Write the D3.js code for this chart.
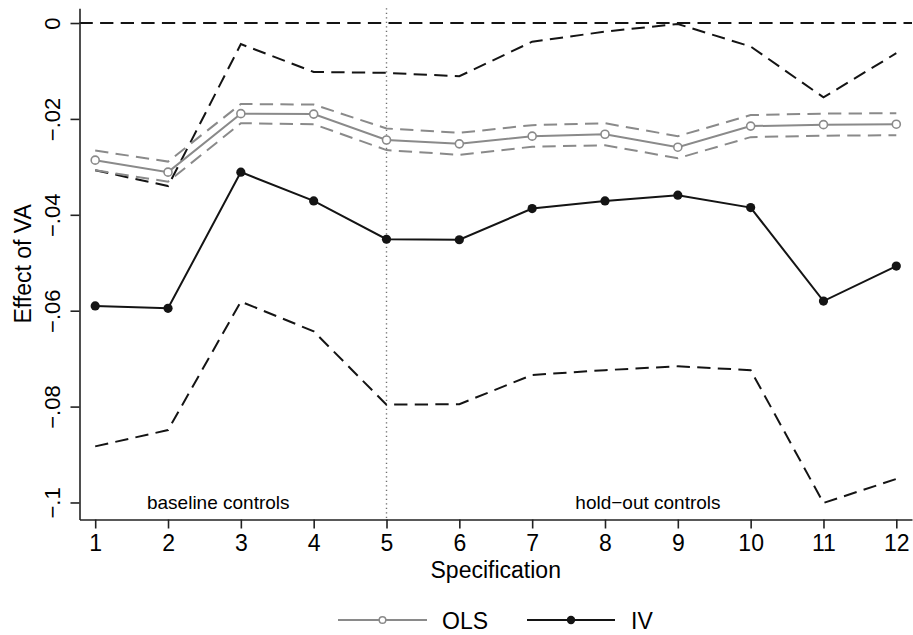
<!DOCTYPE html>
<html>
<head>
<meta charset="utf-8">
<script src="https://cdn.jsdelivr.net/npm/d3@7"></script>
<style>
  html, body { margin: 0; padding: 0; background: #fff; }
  svg { display: block; font-family: "Liberation Sans", Arial, Helvetica, sans-serif; }
</style>
</head>
<body>
<svg id="chart" width="913" height="635"></svg>
<script>
// Specifications 1..12
const specs = [1, 2, 3, 4, 5, 6, 7, 8, 9, 10, 11, 12];

// OLS estimates and 95% bounds
const olsEst   = [-0.0286, -0.0311, -0.0189, -0.0190, -0.0244, -0.0252, -0.0236, -0.0232, -0.0259, -0.0215, -0.0212, -0.0211];
const olsUpper = [-0.0266, -0.0289, -0.0169, -0.0170, -0.0220, -0.0229, -0.0213, -0.0209, -0.0236, -0.0192, -0.0189, -0.0188];
const olsLower = [-0.0307, -0.0331, -0.0209, -0.0211, -0.0265, -0.0275, -0.0258, -0.0255, -0.0282, -0.0238, -0.0235, -0.0234];

// IV estimates and 95% bounds
const ivEst   = [-0.0590, -0.0595, -0.0311, -0.0371, -0.0451, -0.0452, -0.0387, -0.0371, -0.0359, -0.0385, -0.0580, -0.0507];
const ivUpper = [-0.0307, -0.0340, -0.0044, -0.0102, -0.0104, -0.0111, -0.0039, -0.0018, -0.0002, -0.0049, -0.0155, -0.0063];
const ivLower = [-0.0883, -0.0849, -0.0581, -0.0643, -0.0796, -0.0795, -0.0734, -0.0724, -0.0716, -0.0724, -0.1001, -0.0951];

// Axis ticks
const yTicks = [0, -0.02, -0.04, -0.06, -0.08, -0.1];
const yTickLabels = ["0", "\u2212.02", "\u2212.04", "\u2212.06", "\u2212.08", "\u2212.1"];
const xTicks = specs;

// Region annotations
const regionLabels = ["baseline controls", "hold\u2212out controls"];
const regionLabelX = [2.69, 8.59];
const splitAt = 5;

const legendNames = ["OLS", "IV"];

const svg = d3.select("#chart");
const GRAY = "#8a8a8a";
const BLACK = "#141414";
const DASH = "13.3,7.3";

const x = d3.scaleLinear().domain([0.7845, 12.2155]).range([79.5, 912]);
const y = d3.scaleLinear().domain([-0.10355, 0.00307]).range([519.5, 8.3]);

const plot = svg.append("g");

// Reference line at zero
plot.append("line")
  .attr("x1", x.range()[0]).attr("x2", x.range()[1])
  .attr("y1", y(0)).attr("y2", y(0))
  .attr("stroke", BLACK).attr("stroke-width", 2)
  .attr("stroke-dasharray", DASH);

// Split between baseline and hold-out specifications
plot.append("line")
  .attr("x1", x(splitAt)).attr("x2", x(splitAt))
  .attr("y1", y.range()[1]).attr("y2", y.range()[0])
  .attr("stroke", "#6f6f6f").attr("stroke-width", 1.4)
  .attr("stroke-dasharray", "1.3,3.2");

const line = d3.line().x((d, i) => x(specs[i])).y(d => y(d));

function drawLine(vals, color, width, dash) {
  plot.append("path")
    .datum(vals)
    .attr("d", line)
    .attr("fill", "none")
    .attr("stroke", color)
    .attr("stroke-width", width)
    .attr("stroke-linejoin", "miter")
    .attr("stroke-dasharray", dash || null);
}

// IV confidence bounds
drawLine(ivUpper, BLACK, 2, DASH);
drawLine(ivLower, BLACK, 2, DASH);
// OLS confidence bounds
drawLine(olsUpper, GRAY, 2, DASH);
drawLine(olsLower, GRAY, 2, DASH);
// OLS estimates
drawLine(olsEst, GRAY, 2);
plot.selectAll("circle.ols").data(olsEst).enter().append("circle")
  .attr("class", "ols")
  .attr("cx", (d, i) => x(specs[i])).attr("cy", d => y(d))
  .attr("r", 4).attr("fill", "#fff").attr("stroke", GRAY).attr("stroke-width", 1.6);
// IV estimates
drawLine(ivEst, BLACK, 2);
plot.selectAll("circle.iv").data(ivEst).enter().append("circle")
  .attr("class", "iv")
  .attr("cx", (d, i) => x(specs[i])).attr("cy", d => y(d))
  .attr("r", 4.6).attr("fill", BLACK);

// Region labels
plot.selectAll("text.region").data(regionLabels).enter().append("text")
  .attr("class", "region")
  .attr("x", (d, i) => x(regionLabelX[i]))
  .attr("y", y(-0.1) + 7)
  .attr("text-anchor", "middle")
  .attr("font-size", 19)
  .attr("fill", "#000")
  .text(d => d);

// Axes
const xAxis = d3.axisBottom(x).tickValues(xTicks).tickSize(9).tickSizeOuter(0).tickPadding(6)
  .tickFormat(d3.format("d"));
const gx = svg.append("g").attr("transform", `translate(0,${y.range()[0]})`).call(xAxis);
gx.select(".domain").attr("stroke", "#222").attr("stroke-width", 1.6);
gx.selectAll(".tick line").attr("stroke", "#222").attr("stroke-width", 1.6);
gx.selectAll(".tick text").attr("font-size", 23).attr("fill", "#000")
  .attr("font-family", "'Liberation Sans', Arial, sans-serif");

const yAxis = d3.axisLeft(y).tickValues(yTicks).tickSize(9).tickSizeOuter(0)
  .tickFormat((d, i) => yTickLabels[i]);
const gy = svg.append("g").attr("transform", `translate(${x.range()[0]},0)`).call(yAxis);
gy.select(".domain").attr("stroke", "#222").attr("stroke-width", 1.6);
gy.selectAll(".tick line").attr("stroke", "#222").attr("stroke-width", 1.6);
gy.selectAll(".tick text")
  .attr("font-size", 22).attr("fill", "#000")
  .attr("font-family", "'Liberation Sans', Arial, sans-serif")
  .attr("x", null).attr("dy", null)
  .attr("text-anchor", "middle")
  .attr("transform", "translate(-20,0) rotate(-90)");

// Axis titles
svg.append("text")
  .attr("x", (x.range()[0] + x.range()[1]) / 2).attr("y", 578)
  .attr("text-anchor", "middle").attr("font-size", 23).attr("fill", "#000")
  .text("Specification");
svg.append("text")
  .attr("transform", `translate(31,${(y.range()[0] + y.range()[1]) / 2}) rotate(-90)`)
  .attr("text-anchor", "middle").attr("font-size", 23).attr("fill", "#000")
  .text("Effect of VA");

// Legend
const legend = svg.append("g");
const legItems = [
  { name: legendNames[0], x0: 338, x1: 427, color: GRAY, hollow: true, tx: 442 },
  { name: legendNames[1], x0: 527, x1: 615, color: BLACK, hollow: false, tx: 631 }
];
const ly = 620;
legItems.forEach(it => {
  legend.append("line").attr("x1", it.x0).attr("x2", it.x1).attr("y1", ly).attr("y2", ly)
    .attr("stroke", it.color).attr("stroke-width", 2);
  legend.append("circle").attr("cx", (it.x0 + it.x1) / 2).attr("cy", ly)
    .attr("r", it.hollow ? 3.3 : 4.2)
    .attr("fill", it.hollow ? "#fff" : it.color)
    .attr("stroke", it.hollow ? it.color : "none").attr("stroke-width", 1.5);
  legend.append("text").attr("x", it.tx).attr("y", ly + 8.5)
    .attr("font-size", 23).attr("fill", "#000").text(it.name);
});
</script>
</body>
</html>
